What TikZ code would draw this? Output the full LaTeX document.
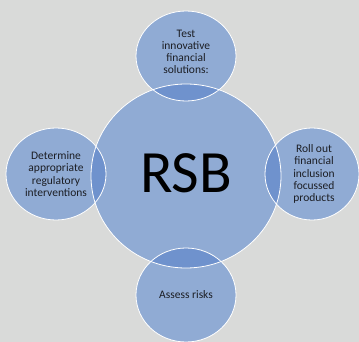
\documentclass[tikz,border=0pt]{standalone}
\usepackage{fontspec}
\setmainfont{Carlito}
\usetikzlibrary{shapes.geometric}
\definecolor{paneGrey}{RGB}{217,218,217}
\definecolor{discBlue}{RGB}{144,171,212}
\definecolor{lensBlue}{RGB}{111,146,205}
\definecolor{inkGrey}{RGB}{28,30,36}
\begin{document}
\begin{tikzpicture}[x=1pt,y=-1pt]
  \tikzset{hub/.style={ellipse,inner sep=0pt,fill=discBlue,minimum width=190pt,minimum height=184pt}}
  \tikzset{spoke/.style={ellipse,inner sep=0pt,fill=discBlue}}
  \tikzset{note/.style={align=center,text=inkGrey,font=\fontsize{11.5}{12.2}\selectfont}}
  \tikzset{rim/.style={draw=white,line width=0.8pt}}
  \fill[paneGrey] (0,0) rectangle (359,342);
  \useasboundingbox (0,0) rectangle (359,342);
  \node[hub] (rsb) at (186,176) {};
  \node[spoke,minimum width=100pt,minimum height=90pt] (test) at (186,56) {};
  \node[spoke,minimum width=100pt,minimum height=92pt] (determine) at (56,174) {};
  \node[spoke,minimum width=94pt,minimum height=92pt] (rollout) at (312,174) {};
  \node[spoke,minimum width=100pt,minimum height=94pt] (assess) at (186,295) {};
  % darker lenses where the satellites cut into the hub
  \begin{scope}
    \clip (rsb.center) ellipse [x radius=95,y radius=92];
    \fill[lensBlue] (test.center) ellipse [x radius=50,y radius=45];
    \fill[lensBlue] (determine.center) ellipse [x radius=50,y radius=46];
    \fill[lensBlue] (rollout.center) ellipse [x radius=47,y radius=46];
    \fill[lensBlue] (assess.center) ellipse [x radius=50,y radius=47];
  \end{scope}
  \draw[rim] (rsb.center) ellipse [x radius=95,y radius=92];
  \draw[rim] (test.center) ellipse [x radius=50,y radius=45];
  \draw[rim] (determine.center) ellipse [x radius=50,y radius=46];
  \draw[rim] (rollout.center) ellipse [x radius=47,y radius=46];
  \draw[rim] (assess.center) ellipse [x radius=50,y radius=47];
  \node[font=\fontsize{60}{66}\selectfont,yshift=3pt] (rsbText) at (rsb) {RSB};
  \node[note,yshift=4pt] (testText) at (test) {Test\\innovative\\financial\\solutions:};
  \node[note] (determineText) at (determine) {Determine\\appropriate\\regulatory\\interventions};
  \node[note,xshift=2pt] (rolloutText) at (rollout) {Roll out\\financial\\inclusion\\focussed\\products};
  \node[note] (assessText) at (assess) {Assess risks};
\end{tikzpicture}
\end{document}
